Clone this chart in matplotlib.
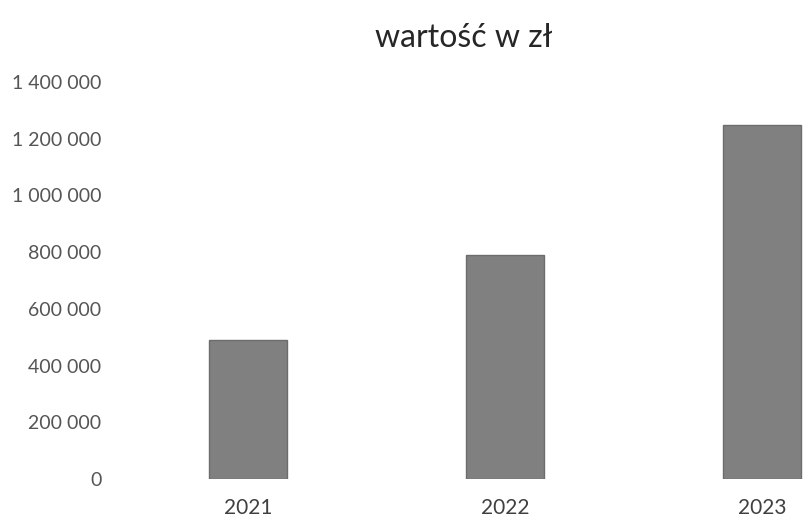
import matplotlib
matplotlib.use("Agg")
import matplotlib.pyplot as plt
from matplotlib.ticker import FuncFormatter

plt.rcParams["font.family"] = ["Lato", "DejaVu Sans"]

# dane
lata = ["2021", "2022", "2023"]
wartosci = [490000, 790000, 1250000]
y_ticks = [0, 200000, 400000, 600000, 800000, 1000000, 1200000, 1400000]

W, H = 804, 520
fig = plt.figure(figsize=(W / 100, H / 100), dpi=100)
left = 119.5 / W
bottom = (H - 479) / H
top = (H - 82) / H
ax = fig.add_axes([left, bottom, 1 - left, top - bottom])

x = range(len(lata))
ax.bar(x, wartosci, width=0.30, color="#808080", edgecolor="#6c6c6c", linewidth=1.0)

ax.set_xlim(-0.5, (W - 119.5) / 257 - 0.5)
ax.set_ylim(0, 1400000)
ax.set_yticks(y_ticks)
ax.yaxis.set_major_formatter(FuncFormatter(lambda v, p: f"{int(v):,}".replace(",", " ")))
ax.set_xticks(list(x))
ax.set_xticklabels(lata)

for s in ax.spines.values():
    s.set_visible(False)
ax.tick_params(axis="y", length=0, pad=13, labelsize=14, labelcolor="#555555")
ax.tick_params(axis="x", length=0, pad=14, labelsize=15, labelcolor="#404040")

fig.text(464 / W, 1 - 38 / H, "wartość w zł", ha="center", va="center",
         fontsize=23, color="#262626")

fig.savefig("out.png", dpi=100)
